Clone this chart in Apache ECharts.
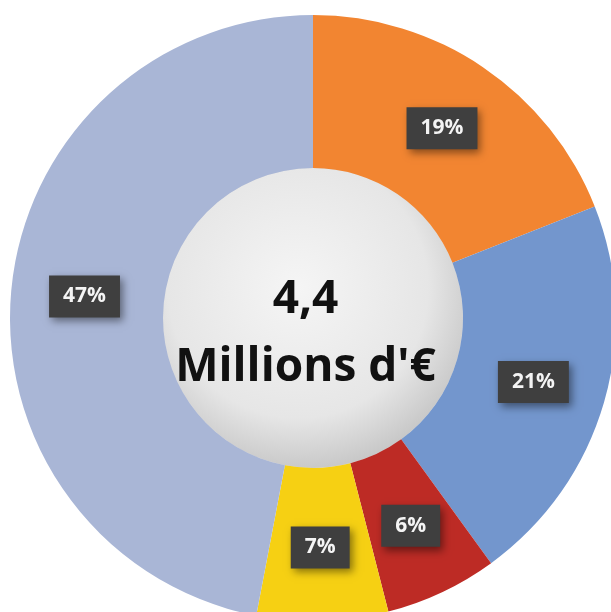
<!DOCTYPE html>
<html>
<head>
<meta charset="utf-8">
<script src="https://cdn.jsdelivr.net/npm/echarts@6/dist/echarts.min.js"></script>
<style>
    html, body { margin: 0; padding: 0; background: #ffffff; }
    #chart { width: 611px; height: 612px; }
</style>
</head>
<body>
<div id="chart"></div>
<script>
// parts of the budget, clockwise from the top
var shares = [19, 21, 6, 7, 47];
var shareColors = ['#F28531', '#7396CD', '#BD2B25', '#F6D013', '#A9B6D6'];
var totalLines = ['4,4', "Millions d'€"];

/**
 * donut chart
 */
function budgetChart() {
    var myChart = echarts.init(document.getElementById('chart'));
    var data = shares.map(function (v, i) {
        return {value: v, name: 'p' + i, itemStyle: {color: shareColors[i]}};
    });
    var option = {
        animation: false,
        // total written on the sphere
        title: {
            text: totalLines.join('\n'),
            left: 'center',
            top: 266,
            padding: 0,
            textStyle: {
                color: '#111111',
                fontFamily: 'Open Sans',
                fontWeight: 'bold',
                fontSize: 46,
                lineHeight: 68
            }
        },
        series: [
            {
                type: 'pie',
                center: [313, 318],
                radius: [150, 303],
                startAngle: 90,
                clockwise: true,
                silent: true,
                data: data,
                label: {
                    show: true,
                    position: 'inside',
                    formatter: '{c}%',
                    color: '#f4f4f4',
                    fontFamily: 'Open Sans',
                    fontWeight: 'bold',
                    fontSize: 21,
                    backgroundColor: '#3f3f3f',
                    padding: [11, 14, 10, 14],
                    shadowBlur: 8,
                    shadowOffsetX: 3,
                    shadowOffsetY: 4,
                    shadowColor: 'rgba(0, 0, 0, 0.45)'
                },
                labelLine: {show: false}
            },
            {
                type: 'pie',
                center: [313, 318],
                radius: [0, 150],
                silent: true,
                z: 1,
                data: [{value: 1, name: 'total'}],
                itemStyle: {
                    color: {
                        type: 'radial',
                        x: 0.45, y: 0.4, r: 0.62,
                        colorStops: [
                            {offset: 0, color: '#f5f5f5'},
                            {offset: 0.7, color: '#e6e6e6'},
                            {offset: 1, color: '#c6c6c6'}
                        ]
                    },
                    shadowBlur: 6,
                    shadowColor: 'rgba(0, 0, 0, 0.25)'
                },
                label: {show: false},
                labelLine: {show: false}
            }
        ]
    };
    myChart.setOption(option, true);
}

budgetChart();
</script>
</body>
</html>
